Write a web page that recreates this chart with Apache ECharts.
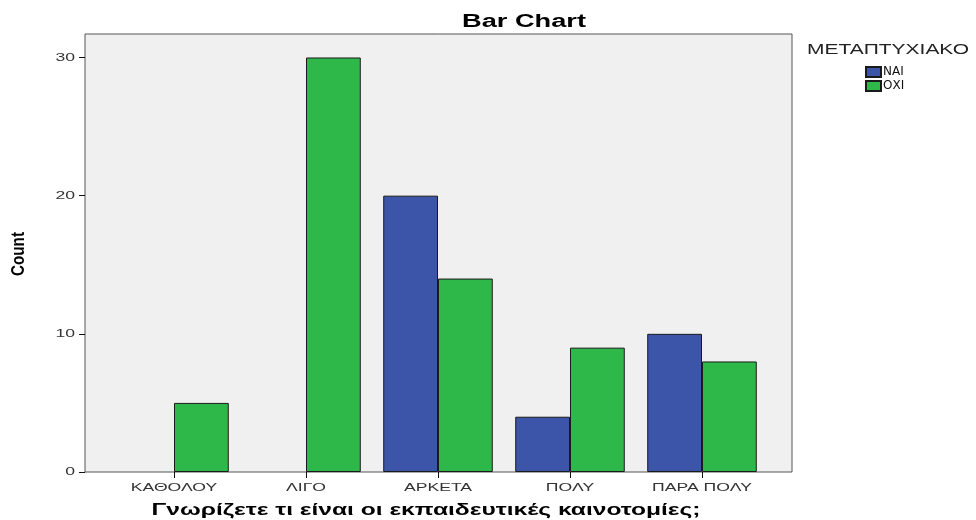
<!DOCTYPE html>
<html>
<head>
<meta charset="utf-8">
<script src="https://cdn.jsdelivr.net/npm/echarts@6/dist/echarts.min.js"></script>
<style>html,body{margin:0;padding:0;background:#fff}#c{width:976px;height:520px}</style>
</head>
<body>
<div id="c"></div>
<script>
const categories = ['ΚΑΘΟΛΟΥ', 'ΛΙΓΟ', 'ΑΡΚΕΤΑ', 'ΠΟΛΥ', 'ΠΑΡΑ ΠΟΛΥ'];
const seriesNames = ['ΝΑΙ', 'ΟΧΙ'];
const naiValues = [null, null, 20, 4, 10];
const oxiValues = [5, 30, 14, 9, 8];
const yTicks = [0, 10, 20, 30];
const titleText = 'Bar Chart';
const legendTitle = 'ΜΕΤΑΠΤΥΧΙΑΚΟ';
const xName = 'Γνωρίζετε τι είναι οι εκπαιδευτικές καινοτομίες;';
const yName = 'Count';

const SANS = '"Liberation Sans", Arial, sans-serif';
const mctx = document.createElement('canvas').getContext('2d');
function fitScale(text, font, target) {
  mctx.font = font;
  return target / mctx.measureText(text).width;
}
function txt(text, font, fill, x, y, align, vAlign, scaleX, extra) {
  const el = {
    type: 'text', x: x, y: y, scaleX: scaleX || 1, silent: true, z: 10,
    style: {text: text, font: font, fill: fill, align: align, verticalAlign: vAlign,
      textAlign: align, textVerticalAlign: vAlign}
  };
  return Object.assign(el, extra || {});
}

const chart = echarts.init(document.getElementById('c'), null, {renderer: 'canvas'});
chart.setOption({
  animation: false,
  backgroundColor: '#ffffff',
  legend: {
    orient: 'vertical', left: 860, top: 61, padding: 5,
    itemWidth: 15, itemHeight: 10, itemGap: 2, icon: 'rect',
    textStyle: {fontFamily: 'DejaVu Sans, sans-serif', fontSize: 12, color: '#111', padding: [0, 0, 0, -3]},
    data: seriesNames
  },
  grid: [
    {left: 108, right: 208, top: 34, bottom: 48, outerBoundsMode: 'none', containLabel: false},
    {left: 85, right: 184, top: 34, bottom: 48, outerBoundsMode: 'none', containLabel: false,
      show: true, backgroundColor: '#f0f0f0', borderColor: '#555', borderWidth: 1, z: 0}
  ],
  xAxis: [{
    type: 'category', gridIndex: 0, data: categories,
    axisLine: {show: false},
    axisTick: {show: true, alignWithLabel: true, length: 6, lineStyle: {color: '#111'}},
    axisLabel: {show: false}
  }, {
    type: 'value', gridIndex: 1, show: false
  }],
  yAxis: [{
    type: 'value', gridIndex: 0, min: 0, max: 31.7, interval: 10, offset: 23,
    axisLine: {show: false},
    axisTick: {show: true, length: 6, customValues: yTicks, lineStyle: {color: '#111'}},
    axisLabel: {show: false},
    splitLine: {show: false}
  }, {
    type: 'value', gridIndex: 1, show: false
  }],
  series: [{
    name: seriesNames[0], type: 'bar', xAxisIndex: 0, yAxisIndex: 0,
    data: naiValues, barGap: '0%', barCategoryGap: '17%',
    itemStyle: {color: '#3d55a8', borderColor: '#1a1a1a', borderWidth: 1}
  }, {
    name: seriesNames[1], type: 'bar', xAxisIndex: 0, yAxisIndex: 0,
    data: oxiValues, barGap: '0%', barCategoryGap: '17%',
    itemStyle: {color: '#2eb84a', borderColor: '#1a1a1a', borderWidth: 1}
  }]
});

// Text elements (stretched horizontally like the reference)
const g = [];
const fTitle = 'bold 18px ' + SANS;
g.push(txt(titleText, fTitle, '#000', 524, 22, 'center', 'middle', fitScale(titleText, fTitle, 124)));
const fLeg = '14px ' + SANS;
g.push(txt(legendTitle, fLeg, '#222', 888, 50, 'center', 'middle', fitScale(legendTitle, fLeg, 162)));
const fX = 'bold 16px ' + SANS;
g.push(txt(xName, fX, '#000', 426, 511, 'center', 'middle', fitScale(xName, fX, 549)));
const fY = 'bold 15px "Liberation Sans Narrow", ' + SANS;
g.push(txt(yName, fY, '#000', 19, 254, 'center', 'middle', fitScale(yName, fY, 44), {rotation: Math.PI / 2, scaleY: 1.25}));
const fTick = '11px ' + SANS;
categories.forEach(function (c) {
  const px = chart.convertToPixel({xAxisIndex: 0}, c);
  g.push(txt(c, fTick, '#333', px, 487.5, 'center', 'middle', 1.6));
});
yTicks.forEach(function (v) {
  const py = chart.convertToPixel({yAxisIndex: 0}, v);
  g.push(txt(String(v), fTick, '#333', 75, py, 'right', 'middle', 1.6));
});
chart.setOption({graphic: g});
</script>
</body>
</html>
